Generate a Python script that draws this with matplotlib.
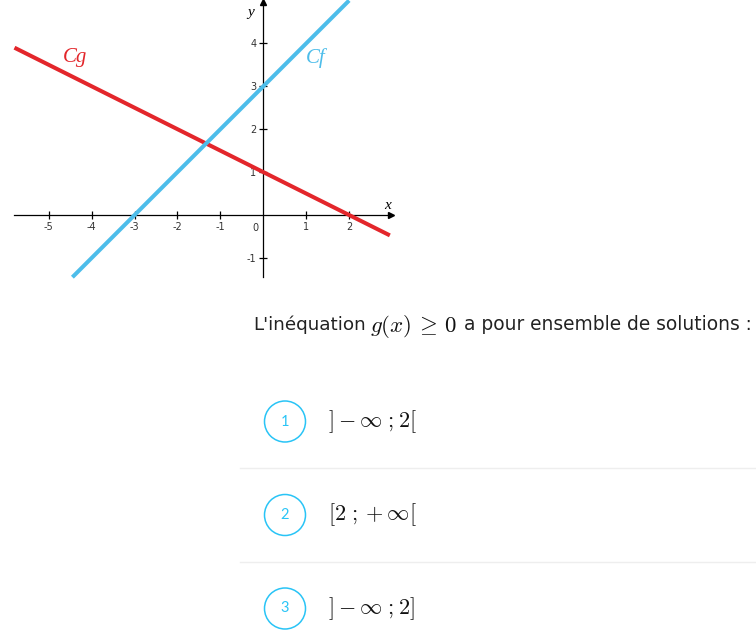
import matplotlib.pyplot as plt
from matplotlib.patches import Circle

plt.rcParams['mathtext.fontset'] = 'cm'
plt.rcParams['axes.unicode_minus'] = False

# droites (extrémités)
x_f = [-4.45, 2.0]
y_f = [-1.45, 5.0]
x_g = [-5.8, 2.95]
y_g = [3.9, -0.475]

x_ticks = [-5, -4, -3, -2, -1, 1, 2]
y_ticks = [-1, 1, 2, 3, 4]

question = ["L'inéquation", r"$g(x)\,\geq\,\mathbf{0}$", "a pour ensemble de solutions :"]
numbers = ["1", "2", "3"]
choices = [r"$]-\infty\ ;\mathbf{2}[$",
           r"$[\mathbf{2}\ ;+\infty[$",
           r"$]-\infty\ ;\mathbf{2}]$"]

red = '#e3262b'
blue = '#4dbdea'
cyan = '#29c4f6'

W, H = 756, 642
fig = plt.figure(figsize=(W / 100, H / 100), dpi=100)

# calque texte en pixels
tax = fig.add_axes([0, 0, 1, 1], zorder=0)
tax.set_xlim(0, W)
tax.set_ylim(H, 0)
tax.axis('off')

tax.text(253, 325, question[0], fontsize=13.2, va='center', color='#222222')
tax.text(370, 326, question[1], fontsize=16.5, va='center', color='#111111')
tax.text(464, 325, question[2], fontsize=13.4, va='center', color='#222222')

row_y = [421.5, 515, 608.5]
for i in range(3):
    cy = row_y[i]
    tax.add_patch(Circle((285, cy), 20.5, fill=False, ec=cyan, lw=1.1))
    tax.text(285, cy, numbers[i], ha='center', va='center', color=cyan,
             fontsize=10.5, family='Lato')
    tax.text(328, cy, choices[i], va='center', fontsize=16, color='#111111')
for sy in [468, 561.5]:
    tax.axhline(sy, xmin=240 / W, xmax=1, color='#eeeeee', lw=1)

# repère
ox, oy, unit = 263.3, 215.0, 42.9
xmin, xmax, ymin, ymax = -5.8, 2.97, -1.45, 4.97
left = (ox + unit * xmin) / W
width = unit * (xmax - xmin) / W
bottom = (H - (oy - unit * ymin)) / H
height = unit * (ymax - ymin) / H
ax = fig.add_axes([left, bottom, width, height], zorder=1)
ax.patch.set_visible(False)
ax.set_xlim(xmin, xmax)
ax.set_ylim(ymin, ymax)

for s in ['top', 'right']:
    ax.spines[s].set_visible(False)
ax.spines['left'].set_position(('data', 0))
ax.spines['bottom'].set_position(('data', 0))
ax.spines['left'].set_linewidth(0.9)
ax.spines['bottom'].set_linewidth(0.9)

ax.set_xticks(x_ticks)
ax.set_yticks(y_ticks)
ax.tick_params(direction='inout', length=6, width=0.9, labelsize=7,
               labelcolor='#333333', pad=2)
ax.text(-0.12, -0.19, '0', ha='right', va='top', fontsize=7, color='#333333')

ax.plot(xmax, 0, marker='>', ms=4, color='k', clip_on=False)
ax.plot(0, ymax, marker='^', ms=4, color='k', clip_on=False)
ax.text(2.82, 0.15, 'x', fontsize=11, style='italic', family='Liberation Serif')
ax.text(-0.22, 4.72, 'y', fontsize=11, style='italic', family='Liberation Serif',
        ha='right', va='center')

ax.plot(x_g, y_g, color=red, lw=2.9, clip_on=False, zorder=3, solid_capstyle='butt')
ax.plot(x_f, y_f, color=blue, lw=2.9, clip_on=False, zorder=3, solid_capstyle='butt')

ax.text(-4.39, 3.66, 'Cg', color=red, fontsize=15, style='italic',
        family='Liberation Serif', ha='center', va='center')
ax.text(1.23, 3.66, 'Cf', color=blue, fontsize=15, style='italic',
        family='Liberation Serif', ha='center', va='center')

fig.savefig('out.png', dpi=100)
